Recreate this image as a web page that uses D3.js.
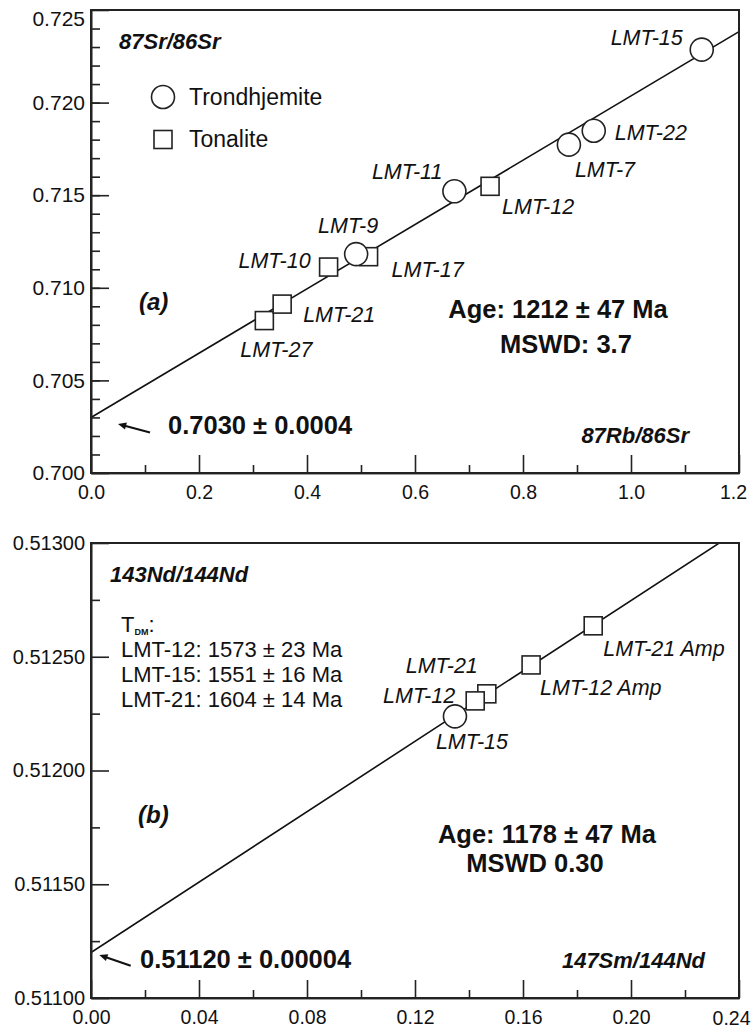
<!DOCTYPE html>
<html>
<head>
<meta charset="utf-8">
<script src="https://cdnjs.cloudflare.com/ajax/libs/d3/7.8.5/d3.min.js"></script>
<style>
	body { margin: 0; background: #fff; }
	svg { display: block; font-family: 'Liberation Sans', Arial, sans-serif; }
	.axis path, .axis line { stroke: #222; stroke-width: 1.6; }
	.axis text { fill: #111; font-family: 'Liberation Sans', Arial, sans-serif; }
	.frame { fill: none; stroke: #222; stroke-width: 2; }
	.isochron { stroke: #111; stroke-width: 1.6; fill: none; }
	.mark { fill: #fff; stroke: #222; stroke-width: 1.6; }
	.sample { font-style: italic; font-size: 21.5px; fill: #111; }
	.bold { font-weight: bold; fill: #111; }
</style>
</head>
<body>
<div id="chart"></div>
<script>
/* global d3 */

// (a) Rb-Sr whole rock isochron
var srSamples = ['LMT-27', 'LMT-21', 'LMT-10', 'LMT-17', 'LMT-9', 'LMT-11', 'LMT-12', 'LMT-7', 'LMT-22', 'LMT-15'];
var srRocks   = ['Tonalite', 'Tonalite', 'Tonalite', 'Tonalite', 'Trondhjemite', 'Trondhjemite', 'Tonalite', 'Trondhjemite', 'Trondhjemite', 'Trondhjemite'];
var rbSr      = [0.321, 0.354, 0.440, 0.514, 0.491, 0.673, 0.739, 0.885, 0.931, 1.131];
var srSr      = [0.70823, 0.70912, 0.71112, 0.71168, 0.71182, 0.71521, 0.71548, 0.71773, 0.71848, 0.72286];
var srFit     = { intercept: 0.7030, slope: 0.01736 };
var srXTicks  = [0, 0.2, 0.4, 0.6, 0.8, 1.0, 1.2];
var srYTicks  = [0.700, 0.705, 0.710, 0.715, 0.720, 0.725];

// (b) Sm-Nd isochron
var ndSamples = ['LMT-15', 'LMT-21', 'LMT-12', 'LMT-12 Amp', 'LMT-21 Amp'];
var ndRocks   = ['Trondhjemite', 'Tonalite', 'Tonalite', 'Tonalite', 'Tonalite'];
var smNd      = [0.1348, 0.1466, 0.1423, 0.1630, 0.1860];
var ndNd      = [0.512238, 0.512337, 0.512306, 0.512464, 0.512636];
var ndFit     = { intercept: 0.51120, slope: 0.007735 };
var ndXTicks  = [0, 0.04, 0.08, 0.12, 0.16, 0.20, 0.24];
var ndYTicks  = [0.51100, 0.51150, 0.51200, 0.51250, 0.51300];
var tdmAges   = ['LMT-12: 1573 \u00b1 23 Ma', 'LMT-15: 1551 \u00b1 16 Ma', 'LMT-21: 1604 \u00b1 14 Ma'];

var rockTypes = ['Trondhjemite', 'Tonalite'];

(function () {
	'use strict';

	var svg = d3.select('#chart').append('svg')
		.attr('width', 752)
		.attr('height', 1028);

	function IsochronPanel (cfg) {
		this.cfg = cfg;
		this.x = d3.scaleLinear().domain(cfg.xDomain).range([91, 739]);
		this.y = d3.scaleLinear().domain(cfg.yDomain).range(cfg.yRange);
		this.g = svg.append('g').attr('class', 'panel ' + cfg.name);

		this.addClip();
		this.addLine();
		this.addAxes();
		this.addFrame();
		this.addPoints();
		this.addArrow();
		this.addNotes();
	}

	IsochronPanel.prototype = {
		addClip: function () {
			this.clipId = 'clip-' + this.cfg.name;
			this.g.append('clipPath').attr('id', this.clipId)
				.append('rect')
					.attr('x', this.x.range()[0])
					.attr('y', this.y.range()[1])
					.attr('width', this.x.range()[1] - this.x.range()[0])
					.attr('height', this.y.range()[0] - this.y.range()[1]);
		},

		addLine: function () {
			var that = this, fit = this.cfg.fit;
			var line = d3.line()
				.x(function (d) { return that.x(d); })
				.y(function (d) { return that.y(fit.intercept + fit.slope * d); });
			this.g.append('path')
				.attr('class', 'isochron')
				.attr('clip-path', 'url(#' + this.clipId + ')')
				.attr('d', line(this.x.domain()));
		},

		addAxes: function () {
			var cfg = this.cfg, y0 = this.y.range()[0], x0 = this.x.range()[0];

			// minor ticks first, then labelled majors
			this.g.append('g')
				.attr('class', 'axis')
				.attr('transform', 'translate(0,' + y0 + ')')
				.call(d3.axisBottom(this.x).tickValues(cfg.xMinor).tickSize(-8).tickSizeOuter(0).tickFormat(''));
			this.g.append('g')
				.attr('class', 'axis')
				.attr('transform', 'translate(' + x0 + ',0)')
				.call(d3.axisLeft(this.y).tickValues(cfg.yMinor).tickSize(-9).tickSizeOuter(0).tickFormat(''));

			var xa = this.g.append('g')
				.attr('class', 'axis')
				.attr('transform', 'translate(0,' + y0 + ')')
				.call(d3.axisBottom(this.x).tickValues(cfg.xTicks).tickSize(-18).tickSizeOuter(0)
					.tickPadding(12).tickFormat(d3.format(cfg.xFormat)));
			xa.selectAll('text').style('font-size', '19.5px');

			var ya = this.g.append('g')
				.attr('class', 'axis')
				.attr('transform', 'translate(' + x0 + ',0)')
				.call(d3.axisLeft(this.y).tickValues(cfg.yTicks).tickSize(-18).tickSizeOuter(0)
					.tickPadding(6).tickFormat(d3.format(cfg.yFormat)));
			ya.selectAll('text').style('font-size', cfg.yFont);

			if (cfg.tweakTicks) { cfg.tweakTicks(xa, ya); }
		},

		addFrame: function () {
			this.g.append('rect')
				.attr('class', 'frame')
				.attr('x', this.x.range()[0])
				.attr('y', this.y.range()[1])
				.attr('width', this.x.range()[1] - this.x.range()[0])
				.attr('height', this.y.range()[0] - this.y.range()[1]);
		},

		addPoints: function () {
			var that = this, cfg = this.cfg;
			var pts = cfg.samples.map(function (s, i) {
				return { name: s, rock: cfg.rocks[i], x: cfg.xs[i], y: cfg.ys[i] };
			});

			var g = this.g.selectAll('.pt')
				.data(pts)
				.enter().append('g')
					.attr('class', 'pt')
					.attr('transform', function (d) { return 'translate(' + that.x(d.x) + ',' + that.y(d.y) + ')'; });

			g.each(function (d) {
				var el = d3.select(this);
				if (d.rock === rockTypes[0]) {
					el.append('circle').attr('class', 'mark').attr('r', 11.5);
				} else {
					el.append('rect').attr('class', 'mark').attr('x', -9).attr('y', -9).attr('width', 18).attr('height', 18);
				}
			});

			this.g.selectAll('.sample')
				.data(pts)
				.enter().append('text')
					.attr('class', 'sample')
					.attr('x', function (d) { return that.x(d.x) + cfg.labels[d.name][1]; })
					.attr('y', function (d) { return that.y(d.y) + cfg.labels[d.name][2]; })
					.attr('text-anchor', function (d) { return cfg.labels[d.name][0]; })
					.text(function (d) { return d.name; });
		},

		addArrow: function () {
			var a = this.cfg.arrow;
			var px = this.x(0), py = this.y(this.cfg.fit.intercept);
			var tip = [px + a.tip[0], py + a.tip[1]],
				tail = [px + a.tail[0], py + a.tail[1]];
			var ang = Math.atan2(tip[1] - tail[1], tip[0] - tail[0]);
			var hl = 9, hw = 0.42;
			this.g.append('line')
				.attr('x1', tail[0]).attr('y1', tail[1])
				.attr('x2', tip[0] - Math.cos(ang) * 4).attr('y2', tip[1] - Math.sin(ang) * 4)
				.attr('stroke', '#111').attr('stroke-width', 2);
			this.g.append('path')
				.attr('d', 'M' + tip[0] + ',' + tip[1] +
					'L' + (tip[0] - hl * Math.cos(ang - hw)) + ',' + (tip[1] - hl * Math.sin(ang - hw)) +
					'L' + (tip[0] - hl * Math.cos(ang + hw)) + ',' + (tip[1] - hl * Math.sin(ang + hw)) + 'Z')
				.attr('fill', '#111');
		},

		addNotes: function () {
			this.g.selectAll('.note')
				.data(this.cfg.notes)
				.enter().append('text')
					.attr('class', 'note bold')
					.attr('x', function (d) { return d.x; })
					.attr('y', function (d) { return d.y; })
					.attr('text-anchor', function (d) { return d.anchor || 'start'; })
					.style('font-size', function (d) { return d.size + 'px'; })
					.style('font-style', function (d) { return d.italic ? 'italic' : 'normal'; })
					.text(function (d) { return d.text; });
		}
	};

	new IsochronPanel({
		name: 'a',
		xDomain: [0, 1.2], yDomain: [0.700, 0.725], yRange: [473, 10],
		xTicks: srXTicks, yTicks: srYTicks,
		xMinor: d3.range(0.1, 1.2, 0.2), yMinor: d3.range(0.701, 0.7245, 0.001),
		xFormat: '.1f', yFormat: '.3f', yFont: '21px',
		fit: srFit, samples: srSamples, rocks: srRocks, xs: rbSr, ys: srSr,
		labels: {
			'LMT-15': ['end', -19, -5], 'LMT-22': ['start', 21, 9], 'LMT-7': ['start', 6, 32],
			'LMT-11': ['end', -12, -12], 'LMT-12': ['start', 12, 28], 'LMT-9': ['middle', -8, -21],
			'LMT-17': ['start', 23, 20], 'LMT-10': ['end', -18, 1], 'LMT-21': ['start', 21, 18],
			'LMT-27': ['middle', 12, 36]
		},
		arrow: { tip: [27, 6.5], tail: [59, 15] },
		notes: [
			{ text: '87Sr/86Sr', x: 119, y: 49, size: 22, italic: true },
			{ text: '(a)', x: 139, y: 310, size: 24, italic: true },
			{ text: 'Age: 1212 \u00b1 47 Ma', x: 558, y: 318, size: 25.5, anchor: 'middle' },
			{ text: 'MSWD: 3.7', x: 566, y: 353, size: 25.5, anchor: 'middle' },
			{ text: '87Rb/86Sr', x: 689, y: 443, size: 22, italic: true, anchor: 'end' },
			{ text: '0.7030 \u00b1 0.0004', x: 168, y: 434, size: 25.5 }
		],
		tweakTicks: function (xa, ya) {
			ya.selectAll('.tick').filter(function (d) { return d === 0.725; })
				.select('text').attr('dy', '0.75em');
			xa.selectAll('.tick').filter(function (d) { return d === 1.2; })
				.select('text').attr('dx', -6);
		}
	});

	new IsochronPanel({
		name: 'b',
		xDomain: [0, 0.24], yDomain: [0.511, 0.513], yRange: [998, 543],
		xTicks: ndXTicks, yTicks: ndYTicks,
		xMinor: d3.range(0.02, 0.24, 0.04), yMinor: d3.range(0.51125, 0.513, 0.0005),
		xFormat: '.2f', yFormat: '.5f', yFont: '20px',
		fit: ndFit, samples: ndSamples, rocks: ndRocks, xs: smNd, ys: ndNd,
		labels: {
			'LMT-21 Amp': ['start', 10, 30], 'LMT-12 Amp': ['start', 9, 30], 'LMT-21': ['end', -9, -21],
			'LMT-12': ['end', -20, 2], 'LMT-15': ['middle', 17, 33]
		},
		arrow: { tip: [8.3, 2.5], tail: [39.7, 13.2] },
		notes: [
			{ text: '143Nd/144Nd', x: 110, y: 582, size: 22, italic: true },
			{ text: '(b)', x: 138, y: 823, size: 24, italic: true },
			{ text: 'Age: 1178 \u00b1 47 Ma', x: 547, y: 843, size: 25.5, anchor: 'middle' },
			{ text: 'MSWD 0.30', x: 535, y: 872, size: 25.5, anchor: 'middle' },
			{ text: '147Sm/144Nd', x: 705, y: 968, size: 22, italic: true, anchor: 'end' },
			{ text: '0.51120 \u00b1 0.00004', x: 140, y: 968, size: 25.5 }
		],
		tweakTicks: function (xa) {
			xa.selectAll('.tick').filter(function (d) { return d === 0.24; })
				.select('text').attr('dy', '0.78em').attr('dx', -8);
		}
	});

	// legend (panel a)
	var legend = svg.append('g').attr('class', 'legend');
	rockTypes.forEach(function (r, i) {
		var cy = 97 + i * 42.5;
		if (i === 0) {
			legend.append('circle').attr('class', 'mark').attr('cx', 163).attr('cy', cy).attr('r', 11.5);
		} else {
			legend.append('rect').attr('class', 'mark').attr('x', 154).attr('y', cy - 9).attr('width', 18).attr('height', 18);
		}
		legend.append('text')
			.attr('x', 189).attr('y', cy + 7.5)
			.style('font-size', '23px').attr('fill', '#111')
			.text(r);
	});

	// T_DM model ages (panel b)
	var tdm = svg.append('g').attr('class', 'tdm').attr('fill', '#111').style('font-size', '22px');
	var head = tdm.append('text').attr('x', 121).attr('y', 632);
	head.append('tspan').text('T');
	head.append('tspan').attr('dy', 3).style('font-size', '9px').style('font-weight', 'bold').text('DM');
	head.append('tspan').attr('dy', -3).text(':');
	tdm.selectAll('.tdm-age')
		.data(tdmAges)
		.enter().append('text')
			.attr('class', 'tdm-age')
			.attr('x', 121)
			.attr('y', function (d, i) { return 657 + i * 25; })
			.text(function (d) { return d; });
})();
</script>
</body>
</html>
